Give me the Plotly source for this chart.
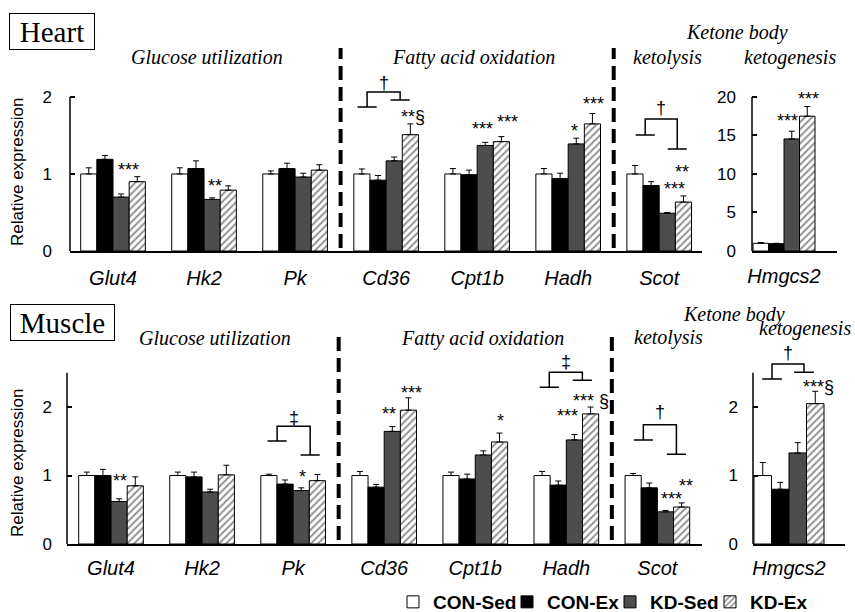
import plotly.graph_objects as go

# ---------------- data ----------------
groups = ["CON-Sed", "CON-Ex", "KD-Sed", "KD-Ex"]
genes = ["Glut4", "Hk2", "Pk", "Cd36", "Cpt1b", "Hadh", "Scot"]
gene_keto = ["Hmgcs2"]

# Heart (relative expression, mean and SEM)
heart_con_sed = [1.00, 1.00, 1.00, 1.00, 1.00, 1.00, 1.00]
heart_con_ex = [1.19, 1.07, 1.07, 0.92, 0.99, 0.94, 0.85]
heart_kd_sed = [0.70, 0.67, 0.96, 1.17, 1.37, 1.39, 0.49]
heart_kd_ex = [0.90, 0.79, 1.05, 1.51, 1.42, 1.65, 0.635]
heart_con_sed_err = [0.08, 0.08, 0.04, 0.065, 0.07, 0.07, 0.11]
heart_con_ex_err = [0.05, 0.10, 0.07, 0.06, 0.06, 0.07, 0.05]
heart_kd_sed_err = [0.04, 0.02, 0.05, 0.05, 0.04, 0.075, 0.01]
heart_kd_ex_err = [0.065, 0.056, 0.07, 0.14, 0.065, 0.135, 0.08]
heart_hmgcs2 = [1.0, 0.95, 14.55, 17.5]
heart_hmgcs2_err = [0.1, 0.05, 1.0, 1.25]

# Muscle
muscle_con_sed = [1.00, 1.00, 1.00, 1.00, 1.00, 1.00, 1.00]
muscle_con_ex = [1.00, 0.98, 0.875, 0.83, 0.95, 0.86, 0.82]
muscle_kd_sed = [0.62, 0.76, 0.78, 1.645, 1.30, 1.52, 0.47]
muscle_kd_ex = [0.85, 1.01, 0.925, 1.955, 1.49, 1.90, 0.54]
muscle_con_sed_err = [0.05, 0.05, 0.02, 0.06, 0.05, 0.06, 0.03]
muscle_con_ex_err = [0.09, 0.07, 0.06, 0.04, 0.07, 0.06, 0.07]
muscle_kd_sed_err = [0.04, 0.04, 0.04, 0.07, 0.06, 0.08, 0.02]
muscle_kd_ex_err = [0.13, 0.14, 0.09, 0.18, 0.13, 0.10, 0.06]
muscle_hmgcs2 = [1.0, 0.80, 1.33, 2.05]
muscle_hmgcs2_err = [0.19, 0.10, 0.15, 0.18]

# significance labels: (panel, gene index, group index, text, label y, dx px)
heart_sig = [
    ("h", 0, 2, "***", 1.10, 7), ("h", 1, 2, "**", 0.90, 3),
    ("h", 3, 3, "**§", 1.79, 3), ("h", 4, 2, "***", 1.64, -3),
    ("h", 4, 3, "***", 1.73, 6), ("h", 5, 2, "*", 1.61, -2),
    ("h", 5, 3, "***", 1.96, 1), ("h", 6, 2, "***", 0.86, 7),
    ("h", 6, 3, "**", 1.08, -1),
    ("hk", 0, 2, "***", 17.4, -4), ("hk", 0, 3, "***", 20.3, 1),
]
muscle_sig = [
    ("m", 0, 2, "**", 0.98, 1), ("m", 2, 2, "*", 1.04, 1),
    ("m", 3, 2, "**", 1.96, -3), ("m", 3, 3, "***", 2.26, 3),
    ("m", 4, 3, "*", 1.86, 1), ("m", 5, 2, "***", 1.93, -7),
    ("m", 5, 3, "*** §", 2.15, 0), ("m", 6, 2, "***", 0.72, 6),
    ("m", 6, 3, "**", 0.91, 4),
    ("mk", 0, 3, "***§", 2.35, 3),
]
# brackets: (panel, gene index, left x, right x, left y, right y, top y, symbol, symbol y)
brackets = [
    ("h", 3, -0.209, 0.154, 1.87, 1.96, 2.065, "†", 2.18),
    ("h", 6, -0.154, 0.198, 1.506, 1.325, 1.714, "†", 1.857),
    ("m", 2, -0.176, 0.187, 1.504, 1.30, 1.72, "‡", 1.84),
    ("m", 5, -0.187, 0.176, 2.29, 2.39, 2.51, "‡", 2.66),
    ("m", 6, -0.154, 0.209, 1.52, 1.31, 1.74, "†", 1.93),
    ("mk", 0, -0.172, 0.152, 2.41, 2.51, 2.63, "†", 2.79),
]

# ---------------- styling ----------------
W, H = 855, 612
SANS = "Liberation Sans, Arial, sans-serif"
SERIF = "Liberation Serif, Times New Roman, serif"
BARGAP = 0.29

fills = ["white", "black", "#4d4d4d", "white"]


def px_x(p):
    return p / W


def px_y(p):
    return 1 - p / H


panel_axes = {"h": ("x", "y"), "hk": ("x2", "y2"), "m": ("x3", "y3"), "mk": ("x4", "y4")}

fig = go.Figure()

series = {
    "h": ([heart_con_sed, heart_con_ex, heart_kd_sed, heart_kd_ex],
          [heart_con_sed_err, heart_con_ex_err, heart_kd_sed_err, heart_kd_ex_err], genes),
    "hk": ([[v] for v in heart_hmgcs2], [[e] for e in heart_hmgcs2_err], gene_keto),
    "m": ([muscle_con_sed, muscle_con_ex, muscle_kd_sed, muscle_kd_ex],
          [muscle_con_sed_err, muscle_con_ex_err, muscle_kd_sed_err, muscle_kd_ex_err], genes),
    "mk": ([[v] for v in muscle_hmgcs2], [[e] for e in muscle_hmgcs2_err], gene_keto),
}

legend_names = ["legend", "legend2", "legend3", "legend4"]
for panel, (vals, errs, cats) in series.items():
    xa, ya = panel_axes[panel]
    for g, name in enumerate(groups):
        marker = dict(color=fills[g], line=dict(color="black", width=1))
        if g == 3:
            marker["pattern"] = dict(shape="/", size=5, solidity=0.4,
                                     fgcolor="#222222", bgcolor="white")
        fig.add_trace(go.Bar(
            x=list(range(len(cats))), y=vals[g], name=name,
            marker=marker, offsetgroup=str(g),
            error_y=dict(type="data", array=errs[g], arrayminus=[0] * len(cats),
                         symmetric=False, color="black", thickness=1, width=3),
            xaxis=xa, yaxis=ya, legend=legend_names[g],
            showlegend=(panel == "h"),
        ))


def bar_offset(g):
    gw = 1 - BARGAP
    w = gw / 4
    return -gw / 2 + w * (g + 0.5)


annotations = []
shapes = []

for (panel, gi, g, text, yv, dx) in heart_sig + muscle_sig:
    xa, ya = panel_axes[panel]
    annotations.append(dict(x=gi + bar_offset(g), y=yv, xref=xa, yref=ya, text=text,
                            showarrow=False, xshift=dx, yshift=-4,
                            xanchor="center", yanchor="middle",
                            font=dict(family=SANS, size=18, color="black")))

for (panel, gi, xl, xr, yl, yr, yt, sym, sy) in brackets:
    xa, ya = panel_axes[panel]
    fw = 0.105 if panel in ("h", "m") else 0.1
    xl += gi
    xr += gi
    path = (f"M {xl - fw},{yl} L {xl + fw},{yl} "
            f"M {xl},{yl} L {xl},{yt} L {xr},{yt} L {xr},{yr} "
            f"M {xr - fw},{yr} L {xr + fw},{yr}")
    shapes.append(dict(type="path", path=path, xref=xa, yref=ya,
                       line=dict(color="black", width=1.5)))
    annotations.append(dict(x=(xl + xr) / 2, y=sy, xref=xa, yref=ya, text=sym,
                            showarrow=False, xanchor="center", yanchor="middle",
                            font=dict(family=SANS, size=18, color="black")))

# y-axis lines (only up to top tick)
for (ya, xa, top) in [("y", "x", 2), ("y2", "x2", 20), ("y3", "x3", 2.5), ("y4", "x4", 2.5)]:
    shapes.append(dict(type="line", xref=xa + " domain", yref=ya, x0=0, x1=0, y0=0, y1=top,
                       line=dict(color="black", width=1.5)))

# dashed separators
for (xa, y0, y1) in [("x", 248, 48), ("x3", 540, 332)]:
    for xv in (2.5, 5.5):
        shapes.append(dict(type="line", xref=xa, yref="paper", x0=xv, x1=xv,
                           y0=px_y(y0), y1=px_y(y1),
                           line=dict(color="black", width=4, dash="14px,7px")))


def paper_text(text, x, y, font, **kw):
    d = dict(x=px_x(x), y=px_y(y), xref="paper", yref="paper", text=text,
             showarrow=False, xanchor="center", yanchor="middle", font=font)
    d.update(kw)
    annotations.append(d)


# section headings
for (text, x, y) in [("Glucose utilization", 207, 57), ("Fatty acid oxidation", 473, 57),
                     ("ketolysis", 667, 57), ("ketogenesis", 790, 57), ("Ketone body", 737, 32),
                     ("Glucose utilization", 215, 338), ("Fatty acid oxidation", 482, 338),
                     ("ketolysis", 668, 337), ("ketogenesis", 805, 328), ("Ketone body", 734, 315)]:
    paper_text(f"<i>{text}</i>", x, y, dict(family=SERIF, size=20, color="black"))

# tissue boxes
for (text, x, y, w) in [("Heart", 52, 31.5, 82), ("Muscle", 62.5, 322.5, 101)]:
    paper_text(text, x, y, dict(family=SERIF, size=29, color="black"),
               width=w, height=33, borderpad=1, bordercolor="black", borderwidth=1)

# y titles
for y in (172, 463):
    paper_text("Relative expression", 17, y, dict(family=SANS, size=17, color="black"),
               textangle=-90)

tickfont = dict(family=SANS, size=17, color="black")
xtickfont = dict(family=SANS, size=20, color="black")


def xaxis(domain, rng, cats, anchor, standoff):
    return dict(domain=domain, range=rng, anchor=anchor, tickmode="array",
                tickvals=list(range(len(cats))), ticktext=[f"<i>{c}</i>" for c in cats],
                showline=True, linecolor="black", linewidth=1.5, ticks="",
                showgrid=False, zeroline=False, tickfont=xtickfont,
                ticklabelstandoff=standoff, fixedrange=True)


def yaxis(domain, rng, tv, anchor, standoff):
    return dict(domain=domain, range=rng, anchor=anchor, tickmode="array", tickvals=tv,
                showline=False, ticks="inside", ticklen=5, tickwidth=1.5, tickcolor="black",
                showgrid=False, zeroline=False, tickfont=tickfont, ticklabelstandoff=standoff,
                fixedrange=True)


heart_ydom = [px_y(251), px_y(43)]
muscle_ydom = [px_y(544), px_y(342)]

legend_text_start = [435, 549, 652, 752]
legends = {}
for name, xs in zip(legend_names, legend_text_start):
    legends[name] = dict(x=px_x(xs - 42), xanchor="left", y=px_y(602), yanchor="middle",
                         orientation="h", bgcolor="rgba(0,0,0,0)", borderwidth=0,
                         font=dict(family=SANS, size=19, color="black", weight="bold"))

fig.update_layout(
    width=W, height=H,
    margin=dict(l=0, r=0, t=0, b=0, autoexpand=False),
    paper_bgcolor="white", plot_bgcolor="white",
    barmode="group", bargap=BARGAP, bargroupgap=0,
    xaxis=xaxis([px_x(70), px_x(702)], [-0.4725, 6.47], genes, "y", 8),
    yaxis=yaxis(heart_ydom, [0, 2.7], [0, 1, 2], "x", 17),
    xaxis2=xaxis([px_x(752), px_x(837)], [-0.367, 0.607], gene_keto, "y2", 6),
    yaxis2=yaxis(heart_ydom, [0, 27], [0, 5, 10, 15, 20], "x2", 15),
    xaxis3=xaxis([px_x(67), px_x(702)], [-0.4835, 6.49], genes, "y3", 5),
    yaxis3=yaxis(muscle_ydom, [0, 2.95], [0, 1, 2], "x3", 14),
    xaxis4=xaxis([px_x(753), px_x(845)], [-0.365, 0.568], gene_keto, "y4", 5),
    yaxis4=yaxis(muscle_ydom, [0, 2.95], [0, 1, 2], "x4", 14),
    annotations=annotations,
    shapes=shapes,
    showlegend=True,
    **legends,
)

fig.write_html("out.html", config={"displayModeBar": False},
               post_script="document.body.style.margin='0';document.body.style.overflow='hidden';")
